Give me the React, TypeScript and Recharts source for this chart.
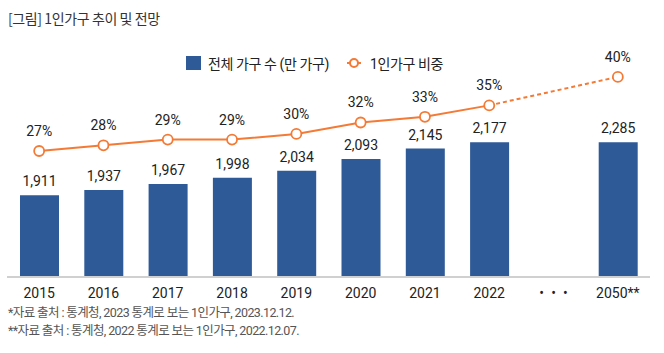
import React from 'react';
import { ComposedChart, Bar, Line, XAxis, YAxis, LabelList, Legend } from 'recharts';

const categories = ['2015', '2016', '2017', '2018', '2019', '2020', '2021', '2022', '•\u2002•\u2002•', '2050**'];
const totalHouseholds: (number | null)[] = [1911, 1937, 1967, 1998, 2034, 2093, 2145, 2177, null, 2285];
const singleShare: (number | null)[] = [27, 28, 29, 29, 30, 32, 33, 35, null, null];
const projectedShare: (number | null)[] = [null, null, null, null, null, null, null, 35, null, 40];

const seriesNames = { total: '전체 가구 수 (만 가구)', share: '1인가구 비중' };
const legendOrder = [seriesNames.total, seriesNames.share];
const footnotes = [
  '*자료 출처 : 통계청, 2023 통계로 보는 1인가구, 2023.12.12.',
  '**자료 출처 : 통계청, 2022 통계로 보는 1인가구, 2022.12.07.',
];

const data = categories.map((year, i) => ({
  year,
  total: totalHouseholds[i],
  share: singleShare[i],
  projection: projectedShare[i],
}));

// The projection bar is drawn "not to scale" (broken axis): values above the last observed total are held at its height.
const axisBreakCap = totalHouseholds[7] as number;

function makeBrokenScale(cap: number): any {
  let dom = [0, 1];
  let rng = [0, 1];
  const scale: any = (value: any) => {
    const v = Math.min(Number(value), cap);
    const t = (v - dom[0]) / (dom[1] - dom[0]);
    return rng[0] + t * (rng[1] - rng[0]);
  };
  scale.domain = (d?: any[]) => {
    if (!d) return dom.slice();
    dom = [Number(d[0]), Number(d[d.length - 1])];
    return scale;
  };
  scale.range = (r?: any[]) => {
    if (!r) return rng.slice();
    rng = [Number(r[0]), Number(r[r.length - 1])];
    return scale;
  };
  scale.copy = () => makeBrokenScale(cap).domain(dom).range(rng);
  scale.ticks = (n: number = 5) => {
    const step = (dom[1] - dom[0]) / n;
    const out: number[] = [];
    for (let i = 0; i <= n; i++) out.push(dom[0] + i * step);
    return out;
  };
  scale.invert = (px: number) => dom[0] + ((px - rng[0]) / (rng[1] - rng[0])) * (dom[1] - dom[0]);
  scale.nice = () => scale;
  scale.clamp = () => scale;
  return scale;
}

const brokenScale = makeBrokenScale(axisBreakCap);

const BLUE = '#2E5A97';
const ORANGE = '#F47A35';
const FONT = 'Roboto, "Noto Sans CJK KR", sans-serif';

const renderLegend = (props: any) => {
  const payload = (props.payload || [])
    .filter((p: any) => legendOrder.includes(p.value))
    .sort((a: any, b: any) => legendOrder.indexOf(a.value) - legendOrder.indexOf(b.value));
  return (
    <div style={{ height: 20, display: 'flex', alignItems: 'center', paddingLeft: 186, fontFamily: FONT, fontSize: 14, color: '#222', fontWeight: 400, letterSpacing: -0.4 }}>
      {payload.map((p: any) => (
        <div key={p.value} style={{ display: 'flex', alignItems: 'center', marginRight: 18 }}>
          {p.value === seriesNames.total ? (
            <svg width={15} height={14} style={{ marginRight: 7 }}>
              <rect x={0} y={0} width={15} height={14} fill={BLUE} />
            </svg>
          ) : (
            <svg width={14} height={12} style={{ marginRight: 9 }}>
              <line x1={0} y1={6} x2={14} y2={6} stroke={ORANGE} strokeWidth={2} />
              <circle cx={7} cy={6} r={4} fill="#fff" stroke={ORANGE} strokeWidth={2} />
            </svg>
          )}
          <span>{p.value}</span>
        </div>
      ))}
    </div>
  );
};

const projectionLabel = (props: any) => {
  const { x, y, value, index } = props;
  if (index !== categories.length - 1 || value == null) return null;
  return (
    <text x={x} y={y - 15} textAnchor="middle" fontSize={14} fill="#222" fontFamily={FONT}>
      {`${value}%`}
    </text>
  );
};

const projectionDot = (props: any) => {
  const { cx, cy, index } = props;
  if (index !== categories.length - 1 || cy == null) return <g key={`pd-${index}`} />;
  return <circle key={`pd-${index}`} cx={cx} cy={cy} r={5} fill="#fff" stroke={ORANGE} strokeWidth={1.8} />;
};

export default function App() {
  return (
    <div style={{ position: 'absolute', left: 0, top: 0, width: 664, height: 353, background: '#fff', fontFamily: FONT }}>
      <div style={{ position: 'absolute', left: 8, top: 8, fontSize: 14, lineHeight: '20px', color: '#333', letterSpacing: -0.4, fontFamily: '"Noto Sans CJK KR", sans-serif' }}>
        [그림] 1인가구 추이 및 전망
      </div>
      <ComposedChart width={664} height={353} data={data} margin={{ top: 40, right: 14, bottom: 46, left: 7 }}>
        <Legend verticalAlign="top" content={renderLegend} wrapperStyle={{ top: 53, left: 0, width: 664 }} />
        <XAxis
          dataKey="year"
          interval={0}
          tickLine={false}
          tickSize={0}
          tickMargin={11}
          height={30}
          axisLine={{ stroke: '#d0d0d0', strokeWidth: 2 }}
          tick={{ fill: '#222', fontSize: 14, fontWeight: 400, fontFamily: FONT }}
        />
        <YAxis yAxisId="total" hide type="number" scale={brokenScale} domain={[1500, 2590]} allowDataOverflow />
        <YAxis yAxisId="share" hide type="number" domain={[4.9, 42.96]} allowDataOverflow />
        <Bar yAxisId="total" dataKey="total" name={seriesNames.total} fill={BLUE} barSize={39} isAnimationActive={false}>
          <LabelList
            dataKey="total"
            position="top"
            offset={9}
            fill="#222"
            fontSize={14}
            fontFamily={FONT}
            formatter={(v: any) => (v == null ? '' : Number(v).toLocaleString('en-US'))}
          />
        </Bar>
        <Line
          yAxisId="share"
          dataKey="share"
          name={seriesNames.share}
          stroke={ORANGE}
          strokeWidth={2}
          dot={{ r: 5, fill: '#fff', stroke: ORANGE, strokeWidth: 1.8 }}
          activeDot={false}
          isAnimationActive={false}
        >
          <LabelList
            dataKey="share"
            position="top"
            offset={15}
            fill="#222"
            fontSize={14}
            fontFamily={FONT}
            formatter={(v: any) => (v == null ? '' : `${v}%`)}
          />
        </Line>
        <Line
          yAxisId="share"
          dataKey="projection"
          name="projection"
          legendType="none"
          stroke={ORANGE}
          strokeWidth={2}
          strokeDasharray="4 3"
          connectNulls
          dot={projectionDot}
          activeDot={false}
          isAnimationActive={false}
        >
          <LabelList dataKey="projection" content={projectionLabel} />
        </Line>
      </ComposedChart>
      {footnotes.map((f, i) => (
        <div
          key={i}
          style={{ position: 'absolute', left: 8, top: 304 + i * 18, fontSize: 12.5, lineHeight: '18px', color: '#555', letterSpacing: -0.6, whiteSpace: 'nowrap', fontFamily: FONT }}
        >
          {f}
        </div>
      ))}
    </div>
  );
}
